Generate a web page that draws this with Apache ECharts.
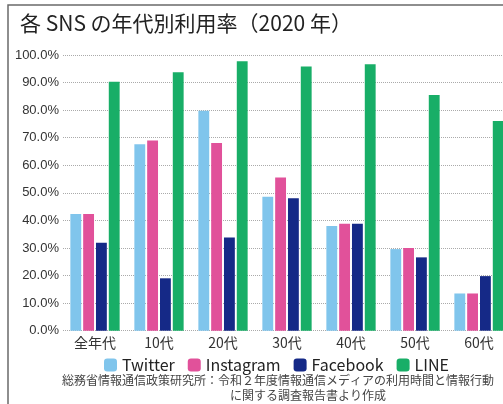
<!DOCTYPE html>
<html>
<head>
<meta charset="utf-8">
<script src="https://cdn.jsdelivr.net/npm/echarts@6/dist/echarts.min.js"></script>
<style>
  html, body { margin: 0; padding: 0; background: #fff; }
  #chart { width: 503px; height: 404px; }
</style>
</head>
<body>
<div id="chart"></div>
<script>
// 年代
const ageGroups = ['全年代', '10代', '20代', '30代', '40代', '50代', '60代'];
// 利用率（%）
const twitterRate = [42.3, 67.6, 79.8, 48.6, 38.0, 29.6, 13.5];
const instagramRate = [42.3, 69.0, 68.1, 55.6, 38.8, 30.0, 13.5];
const facebookRate = [31.9, 19.0, 33.8, 48.0, 38.8, 26.6, 19.8];
const lineRate = [90.3, 93.7, 97.7, 95.8, 96.6, 85.5, 76.1];

const FONT = '"Noto Sans CJK JP", "Noto Sans", sans-serif';

function makeSeries(name, data, color){
    return {
        name: name,
        type: 'bar',
        data: data,
        barGap: '18%',
        barCategoryGap: '23%',
        itemStyle: { color: color },
        emphasis: { disabled: true }
    };
}

let chart = echarts.init(document.getElementById('chart'));
chart.setOption({
    animation: false,
    textStyle: { fontFamily: FONT },
    title: {
        text: '各 SNS の年代別利用率（2020 年）',
        left: 15,
        top: 8,
        textStyle: { fontSize: 21, fontWeight: 'normal', color: '#222', fontFamily: FONT }
    },
    graphic: [{
        type: 'rect',
        shape: { x: 8, y: 5, width: 700, height: 600 },
        style: { fill: 'none', stroke: '#6a6a6a', lineWidth: 1.5 }
    }, {
        type: 'text',
        left: 62,
        top: 374,
        style: {
            text: '総務省情報通信政策研究所：令和２年度情報通信メディアの利用時間と情報行動',
            font: '12px ' + FONT,
            fill: '#444'
        }
    }, {
        type: 'text',
        left: 230,
        top: 389,
        style: {
            text: 'に関する調査報告書より作成',
            font: '12px ' + FONT,
            fill: '#444'
        }
    }],
    legend: {
        left: 99,
        top: 352,
        itemWidth: 13,
        itemHeight: 13,
        itemGap: 13,
        icon: 'roundRect',
        textStyle: { fontSize: 16, color: '#222', fontFamily: FONT }
    },
    // 右端は画面外まではみ出す
    grid: { left: 63, top: 55, width: 448, height: 275.7, outerBoundsMode: 'none', containLabel: false },
    xAxis: {
        type: 'category',
        data: ageGroups,
        axisTick: { show: false },
        axisLine: { show: false },
        axisLabel: { fontSize: 14, color: '#333', margin: 5 }
    },
    yAxis: {
        type: 'value',
        min: 0,
        max: 100,
        interval: 10,
        axisLabel: {
            fontSize: 13,
            color: '#333',
            margin: 4,
            fontFamily: '"Liberation Sans", sans-serif',
            formatter: function(v){ return v.toFixed(1) + '%'; }
        },
        splitLine: { lineStyle: { type: 'dotted', color: '#aaa', width: 1 } }
    },
    series: [
        makeSeries('Twitter', twitterRate, '#80c5ec'),
        makeSeries('Instagram', instagramRate, '#e1519a'),
        makeSeries('Facebook', facebookRate, '#152987'),
        makeSeries('LINE', lineRate, '#18ae67')
    ]
});
</script>
</body>
</html>
